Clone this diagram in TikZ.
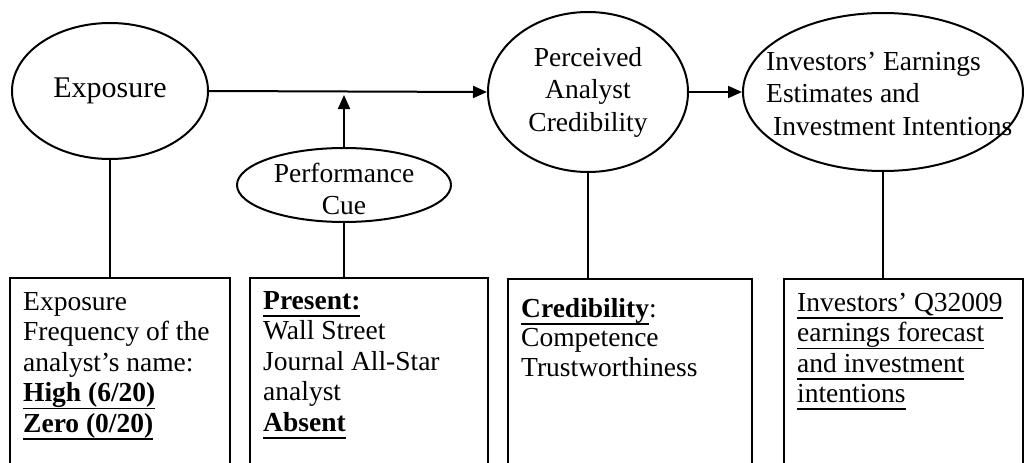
\documentclass[tikz,border=0pt]{standalone}
\usepackage{fontspec}
\setmainfont{Liberation Serif}
\usetikzlibrary{shapes.geometric,arrows.meta}
\newcommand\ulx[1]{\setbox0\hbox{#1\vphantom{g}}\leavevmode\rlap{\rule[-\dimexpr\dp0+1.5pt\relax]{\wd0}{1.6pt}}\box0}
\begin{document}
\begin{tikzpicture}[x=1pt,y=-1pt,
  every node/.style={font=\fontsize{27.5}{32.5}\selectfont},
  oval/.style={draw,ellipse,line width=2pt,inner sep=0pt},
  stepbox/.style={draw,rectangle,line width=2pt,anchor=north west,inner sep=0pt},
  boxtext/.style={anchor=north west,inner sep=0pt,align=left,font=\fontsize{27.5}{30.5}\selectfont},
  conn/.style={line width=2pt},
  arr/.style={line width=2pt,-{Triangle[length=14pt,width=12pt]}}]
\useasboundingbox (0,0) rectangle (1034,463);
\clip (0,0) rectangle (1034,463);
\fill[white] (0,0) rectangle (1034,463);
% ellipses
\node[oval,minimum width=196pt,minimum height=136pt,font=\fontsize{30}{34}\selectfont] (expo) at (110,91) {Exposure};
\node[oval,minimum width=214pt,minimum height=74pt] (cue) at (344,185) {};
\node[align=center,inner sep=0pt] (cuet) at ([yshift=-4pt]cue.center) {Performance\\Cue};
\node[oval,minimum width=200pt,minimum height=160pt,align=center] (perc) at (588,92) {Perceived\\Analyst\\Credibility};
\node[oval,minimum width=280pt,minimum height=158pt] (inv) at (883,92) {};
\node[anchor=north west,inner sep=0pt,align=left] (invt) at (766,52) {Investors’ Earnings\\Estimates and\\\hspace*{7pt}Investment Intentions};
% boxes
\node[stepbox,minimum width=220pt,minimum height=220pt] (box1) at (9,277) {};
\node[stepbox,minimum width=238pt,minimum height=220pt] (box2) at (249,277) {};
\node[stepbox,minimum width=244pt,minimum height=220pt] (box3) at (507,278) {};
\node[stepbox,minimum width=239pt,minimum height=220pt] (box4) at (783,278) {};
\node[boxtext] (t1) at ([shift={(14pt,-15pt)}]box1.north west) {Exposure\\Frequency of the\\analyst’s name:\\\textbf{\ulx{High (6/20)}}\\\textbf{\ulx{Zero (0/20)}}};
\node[boxtext] (t2) at ([shift={(14pt,-14pt)}]box2.north west) {\textbf{\ulx{Present:}}\\Wall Street\\Journal All-Star\\analyst\\\textbf{\ulx{Absent}}};
\node[boxtext,font=\fontsize{27.5}{29.5}\selectfont] (t3) at ([shift={(14pt,-20pt)}]box3.north west) {\textbf{\ulx{Credibility}}:\\Competence\\Trustworthiness};
\node[boxtext,font=\fontsize{27.5}{30.3}\selectfont] (t4) at ([shift={(14pt,-15pt)}]box4.north west) {\ulx{Investors’ Q32009}\\\ulx{earnings forecast}\\\ulx{and investment}\\\ulx{intentions}};
% connectors
\draw[arr] (expo.east) -- (perc.west);
\coordinate (tip) at (cue.north |- 0,95);
\draw[arr] (cue.north) -- (tip);
\draw[arr] (perc.east) -- (inv.west);
\draw[conn] (expo.south) -- (expo.south |- box1.north);
\draw[conn] (cue.south) -- (cue.south |- box2.north);
\draw[conn] (perc.south) -- (perc.south |- box3.north);
\draw[conn] (inv.south) -- (inv.south |- box4.north);
\end{tikzpicture}
\end{document}
